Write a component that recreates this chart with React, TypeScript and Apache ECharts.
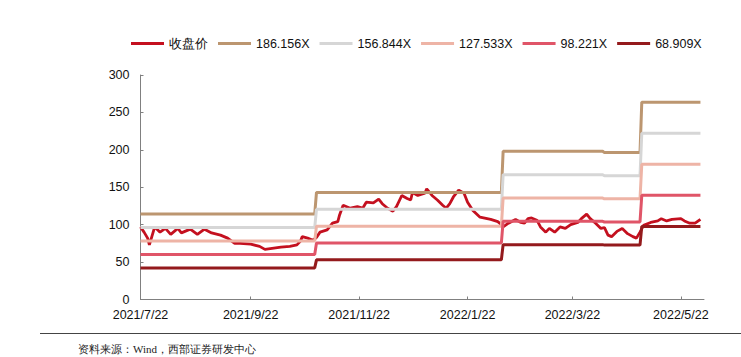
import React, { useEffect, useRef } from 'react';
import * as echarts from 'echarts';

const seriesNames = ['收盘价', '186.156X', '156.844X', '127.533X', '98.221X', '68.909X'];
const seriesColors = ['#C4101F', '#BC9670', '#D6D6D6', '#EEB4A6', '#E05568', '#941A1C'];

// day offsets from 2021-07-22
const priceDays = [
  0, 2, 4, 5, 8, 11, 14, 17, 21, 23, 28, 32, 36, 40, 45, 49, 53, 56, 62, 67, 70, 73, 79, 84, 88, 90, 91, 94,
  97, 99, 101, 105, 108, 111, 112, 114, 118, 122, 125, 127, 131, 134, 136, 139, 142, 144, 147, 150, 152, 153,
  156, 160, 161, 164, 167, 170, 172, 174, 176, 179, 182, 184, 187, 191, 197, 201, 203, 204, 207, 211, 214, 216,
  218, 220, 223, 225, 228, 230, 233, 236, 239, 242, 246, 248, 251, 253, 256, 259, 261, 263, 265, 268, 271, 274,
  277, 279, 281, 283, 287, 291, 293, 296, 299, 304, 306, 309, 312, 315,
];
const priceValues = [
  97, 90, 82, 73, 97, 90, 95, 87, 95, 89, 94, 87, 94, 89, 86, 82, 75, 75, 74, 71, 67, 68, 70, 71, 73, 78, 84, 82,
  79, 83, 90, 93, 102, 104, 113, 126, 122, 124, 122, 130, 129, 134, 128, 122, 118, 124, 139, 135, 133, 143,
  139, 142, 148, 139, 133, 126, 122, 128, 137, 146, 142, 130, 119, 110, 107, 104, 100, 97, 102, 107, 103, 102,
  108, 109, 106, 97, 90, 95, 90, 97, 95, 100, 103, 108, 114, 108, 102, 95, 96, 86, 84, 91, 95, 88,
  84, 82, 90, 99, 103, 105, 108, 105, 107, 108, 105, 102, 102, 107,
];

const segmentStartDays = [0, 99, 204, 261, 282];
const lastDay = 315;
const band186 = [114.1, 143.0, 198.0, 196.3, 263.7];
const band157 = [96.1, 120.5, 166.8, 165.4, 222.2];
const band128 = [78.2, 98.0, 135.6, 134.5, 180.7];
const band98 = [60.2, 75.5, 104.5, 103.6, 139.2];
const band69 = [42.2, 53.0, 73.3, 72.7, 97.6];

const tickLabels = ['2021/7/22', '2021/9/22', '2021/11/22', '2022/1/22', '2022/3/22', '2022/5/22'];
const sourceText = '资料来源：Wind，西部证券研发中心';

const START = new Date(2021, 6, 22).getTime();
const labelToDay = (s: string) => {
  const [y, m, d] = s.split('/').map(Number);
  return Math.round((new Date(y, m - 1, d).getTime() - START) / 86400000);
};

const buildBand = (vals: number[]) => {
  const out: [number, number][] = [];
  vals.forEach((v, i) => {
    const start = segmentStartDays[i];
    const end = i + 1 < segmentStartDays.length ? segmentStartDays[i + 1] - 1 : lastDay;
    out.push([start, v]);
    out.push([end, v]);
  });
  return out;
};

export default function App() {
  const ref = useRef<HTMLDivElement>(null);
  useEffect(() => {
    if (!ref.current) return;
    const chart = echarts.init(ref.current, undefined, { renderer: 'svg' });
    const tickDays = tickLabels.map(labelToDay);
    const font = 'Liberation Sans, Arial, sans-serif';
    const bands = [band186, band157, band128, band98, band69];
    const priceData = priceDays.map((d, i) => [d, priceValues[i]]);
    chart.setOption({
      animation: false,
      legend: {
        left: 126,
        top: 32,
        itemWidth: 33,
        itemHeight: 3,
        itemGap: 10,
        icon: 'rect',
        data: seriesNames,
        textStyle: { fontSize: 12.5, color: '#111', fontFamily: font },
      },
      grid: { left: 140.5, right: 37, top: 75, bottom: 57.5, containLabel: false },
      xAxis: {
        type: 'value',
        min: 0,
        max: 317,
        axisLine: { lineStyle: { color: '#808080', width: 1 } },
        axisTick: { inside: true, length: 3, customValues: tickDays, lineStyle: { color: '#808080' } },
        axisLabel: {
          customValues: tickDays,
          fontSize: 12.5,
          color: '#111',
          fontFamily: font,
          margin: 9,
          showMinLabel: true,
          showMaxLabel: true,
          formatter: (v: number) => {
            const idx = tickDays.indexOf(Math.round(v));
            return idx >= 0 ? tickLabels[idx] : '';
          },
        },
        splitLine: { show: false },
      },
      yAxis: {
        type: 'value',
        min: 0,
        max: 300,
        interval: 50,
        axisLine: { show: true, lineStyle: { color: '#808080', width: 1 } },
        axisTick: { show: true, inside: true, length: 3, lineStyle: { color: '#808080' } },
        axisLabel: { fontSize: 12.5, color: '#111', fontFamily: font, margin: 11 },
        splitLine: { show: false },
      },
      series: [
        {
          name: seriesNames[0],
          type: 'line',
          data: priceData,
          symbol: 'none',
          lineStyle: { color: seriesColors[0], width: 2.8 },
          itemStyle: { color: seriesColors[0] },
        },
        ...bands.map((b, i) => ({
          name: seriesNames[i + 1],
          type: 'line',
          data: buildBand(b),
          symbol: 'none',
          lineStyle: { color: seriesColors[i + 1], width: 3 },
          itemStyle: { color: seriesColors[i + 1] },
        })),
      ],
      graphic: [
        {
          type: 'line',
          shape: { x1: 40, y1: 333.5, x2: 741, y2: 333.5 },
          style: { stroke: '#444', lineWidth: 1 },
        },
        {
          type: 'text',
          x: 78,
          y: 349,
          style: {
            text: sourceText,
            fontSize: 11,
            fill: '#222',
            fontFamily: 'serif',
            verticalAlign: 'middle',
          },
        },
      ],
    });
    return () => chart.dispose();
  }, []);
  return (
    <div
      ref={ref}
      style={{ position: 'absolute', left: 0, top: 0, width: 741, height: 357, background: '#fff' }}
    />
  );
}
